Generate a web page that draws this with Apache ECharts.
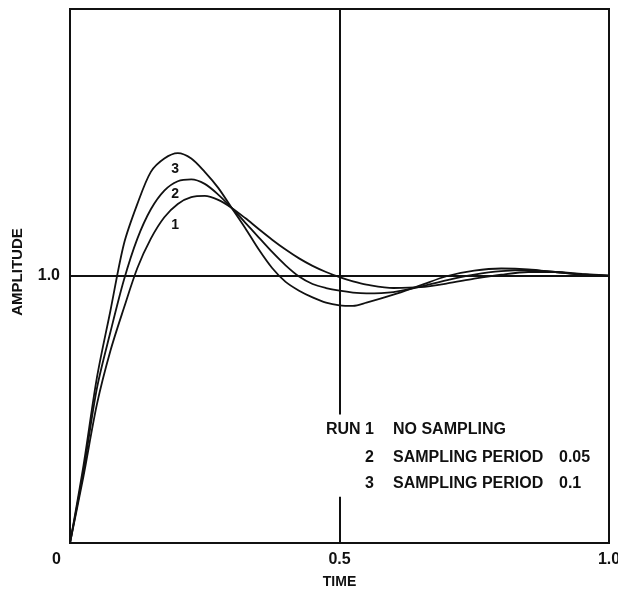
<!DOCTYPE html>
<html>
<head>
<meta charset="utf-8">
<script src="https://cdn.jsdelivr.net/npm/echarts@6/dist/echarts.min.js"></script>
<style>
html,body{margin:0;padding:0;background:#fff;}
#chart{width:618px;height:599px;}
</style>
</head>
<body>
<div id="chart"></div>
<script>
// ---- data ----
var time = [0, 0.025, 0.05, 0.075, 0.1, 0.125, 0.15, 0.175, 0.2, 0.225, 0.25, 0.275, 0.3, 0.325, 0.35, 0.375, 0.4, 0.425, 0.45, 0.475, 0.5, 0.525, 0.55, 0.6, 0.65, 0.7, 0.75, 0.8, 0.85, 0.9, 0.95, 1.0];
var run1 = [0, 0.25, 0.52, 0.72, 0.88, 1.03, 1.14, 1.22, 1.27, 1.295, 1.30, 1.285, 1.255, 1.217, 1.176, 1.136, 1.099, 1.066, 1.038, 1.015, 0.996, 0.98, 0.968, 0.955, 0.958, 0.972, 0.99, 1.005, 1.015, 1.015, 1.008, 1.002];
var run2 = [0, 0.27, 0.58, 0.79, 0.985, 1.14, 1.25, 1.32, 1.355, 1.362, 1.345, 1.305, 1.255, 1.20, 1.145, 1.09, 1.04, 0.998, 0.97, 0.955, 0.945, 0.938, 0.935, 0.94, 0.96, 0.985, 1.005, 1.018, 1.022, 1.015, 1.006, 1.0];
var run3 = [0, 0.29, 0.62, 0.87, 1.12, 1.27, 1.39, 1.44, 1.46, 1.44, 1.39, 1.33, 1.255, 1.18, 1.10, 1.03, 0.978, 0.945, 0.92, 0.90, 0.89, 0.888, 0.90, 0.93, 0.965, 1.0, 1.02, 1.028, 1.025, 1.015, 1.005, 1.0];
var xTicks = [0, 0.5, 1.0];
var xTickLabels = ['0', '0.5', '1.0'];
var yTickLabels = {1: '1.0'};
var curveNames = ['1', '2', '3'];
var curveLabelAt = [[0.195, 1.192], [0.195, 1.308], [0.195, 1.402]];
var legendRows = [
  ['RUN 1', 'NO SAMPLING', ''],
  ['2', 'SAMPLING PERIOD', '0.05'],
  ['3', 'SAMPLING PERIOD', '0.1']
];

function pairs(v) { return time.map(function (t, i) { return [t, v[i]]; }); }

var chart = echarts.init(document.getElementById('chart'), null, {renderer: 'canvas'});
var FONT = 'Liberation Sans';
var lineStyle = {color: '#111', width: 1.8};

var option = {
  backgroundColor: '#fff',
  animation: false,
  grid: {left: 70, right: 9, top: 9, bottom: 56, containLabel: false, outerBoundsMode: 'none',
         show: true, borderColor: '#111', borderWidth: 2, backgroundColor: 'transparent'},
  xAxis: {
    type: 'value', min: 0, max: 1, interval: 0.5,
    axisLine: {show: false}, axisTick: {show: false}, splitLine: {show: false},
    name: 'TIME', nameLocation: 'middle', nameGap: 32,
    nameTextStyle: {fontFamily: FONT, fontSize: 14, fontWeight: 'bold', color: '#111'},
    axisLabel: {
      margin: 9, fontFamily: FONT, fontSize: 16, fontWeight: 'bold', color: '#111',
      formatter: function (v) {
        var i = xTicks.indexOf(v);
        if (i < 0) return '';
        return i === 0 ? '{z|' + xTickLabels[i] + '}' : xTickLabels[i];
      },
      rich: {z: {fontFamily: FONT, fontSize: 16, fontWeight: 'bold', color: '#111', padding: [0, 27, 0, 0]}}
    }
  },
  yAxis: {
    type: 'value', min: 0, max: 2, interval: 1,
    axisLine: {show: false}, axisTick: {show: false}, splitLine: {show: false},
    name: 'AMPLITUDE', nameLocation: 'middle', nameGap: 45, nameRotate: 90,
    nameTextStyle: {fontFamily: FONT, fontSize: 15, fontWeight: 'bold', color: '#111', padding: [0, 0, 0, 8]},
    axisLabel: {
      margin: 10, fontFamily: FONT, fontSize: 16, fontWeight: 'bold', color: '#111',
      formatter: function (v) { return yTickLabels[v] || ''; }
    }
  },
  series: [
    {type: 'line', name: 'run1', data: pairs(run1), showSymbol: false, smooth: 0.3, lineStyle: lineStyle,
     markLine: {
       silent: true, symbol: 'none', label: {show: false},
       lineStyle: {color: '#111', width: 2, type: 'solid'},
       data: [
         [{coord: [0, 1]}, {coord: [1, 1]}],
         [{coord: [0.5, 2]}, {coord: [0.5, 0.481]}],
         [{coord: [0.5, 0.173]}, {coord: [0.5, 0]}]
       ]
     }},
    {type: 'line', name: 'run2', data: pairs(run2), showSymbol: false, smooth: 0.3, lineStyle: lineStyle},
    {type: 'line', name: 'run3', data: pairs(run3), showSymbol: false, smooth: 0.3, lineStyle: lineStyle}
  ]
};
chart.setOption(option);

// annotations: curve numbers and the run key
var g = [];
curveLabelAt.forEach(function (c, i) {
  var p = chart.convertToPixel({gridIndex: 0}, c);
  g.push({type: 'text', x: p[0], y: p[1], style: {text: curveNames[i], fontFamily: FONT, fontSize: 14, fontWeight: 'bold', fill: '#111', align: 'center', verticalAlign: 'middle'}});
});
var rowY = [430, 458, 484];
legendRows.forEach(function (r, i) {
  var st = {fontFamily: FONT, fontSize: 16, fontWeight: 'bold', fill: '#111', verticalAlign: 'middle'};
  g.push({type: 'text', x: 374, y: rowY[i], style: Object.assign({text: r[0], align: 'right'}, st)});
  g.push({type: 'text', x: 393, y: rowY[i], style: Object.assign({text: r[1], align: 'left'}, st)});
  if (r[2]) g.push({type: 'text', x: 559, y: rowY[i], style: Object.assign({text: r[2], align: 'left'}, st)});
});
chart.setOption({graphic: g});
</script>
</body>
</html>
